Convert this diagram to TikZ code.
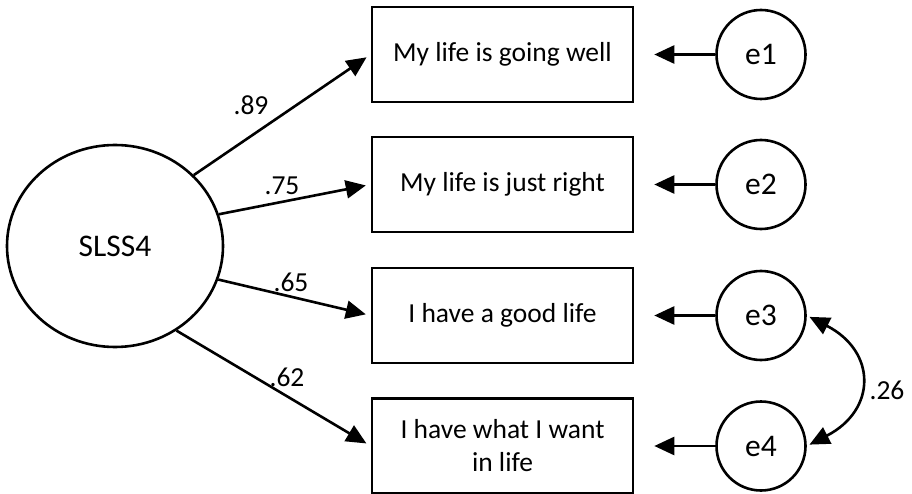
\documentclass[tikz,border=0pt]{standalone}
\usepackage{fontspec}
\setmainfont{Carlito}
\usetikzlibrary{arrows.meta,shapes.geometric}
\begin{document}
\begin{tikzpicture}[x=1pt,y=-1pt,
  line width=2.6pt,
  every node/.style={font=\fontsize{27.5}{33}\selectfont},
  item/.style={draw, minimum width=261pt, minimum height=95pt, align=center, inner sep=0pt},
  latent/.style={draw, ellipse, minimum width=216pt, minimum height=202pt, inner sep=0pt,
    font=\fontsize{31.5}{36}\selectfont},
  err/.style={draw, circle, minimum size=89pt, inner sep=0pt,
    font=\fontsize{31.5}{36}\selectfont},
  tipstyle/.style={Triangle[length=20pt,width=18pt]},
  load/.style={-{Triangle[length=20pt,width=18pt]}, shorten >=5pt},
  resid/.style={-{Triangle[length=20pt,width=18pt]}, shorten >=20pt},
  covar/.style={{Triangle[length=20pt,width=18pt]}-{Triangle[length=20pt,width=18pt]},
    shorten >=3pt, shorten <=3pt},
  coef/.style={inner sep=0pt}
]
\useasboundingbox (0,0) rectangle (912,494);

% latent factor
\node[latent] (S) at (115,246) {SLSS4};

% observed items
\node[item] (b1) at (502.5,54.5) {My life is going well};
\node[item] (b2) at (502.5,184.5) {My life is just right};
\node[item] (b3) at (502.5,315.5) {I have a good life};
\node[item] (b4) at (502.5,446) {I have what I want\\in life};

% residuals
\node[err] (e1) at (761,54.5) {e1};
\node[err] (e2) at (761,184.5) {e2};
\node[err] (e3) at (761,315.5) {e3};
\node[err] (e4) at (761,446) {e4};

% factor loadings
\draw[load] (S.42) -- (b1.west);
\draw[load] (S.17) -- (b2.west);
\draw[load] (S.-18) -- (b3.west);
\draw[load] (S.-54) -- (b4.west);

\node[coef] (l1) at (251,105) {.89};
\node[coef] (l2) at (282,186) {.75};
\node[coef] (l3) at (291,282) {.65};
\node[coef] (l4) at (287,377) {.62};

% residual paths
\draw[resid] (e1.west) -- (b1.east);
\draw[resid] (e2.west) -- (b2.east);
\draw[resid] (e3.west) -- (b3.east);
\draw[resid] (e4.west) -- (b4.east);

% residual covariance
\draw[covar] (e3.east) .. controls +(70,36) and +(70,-36) .. (e4.east);
\node[coef] (c34) at (887,390) {.26};
\end{tikzpicture}
\end{document}
